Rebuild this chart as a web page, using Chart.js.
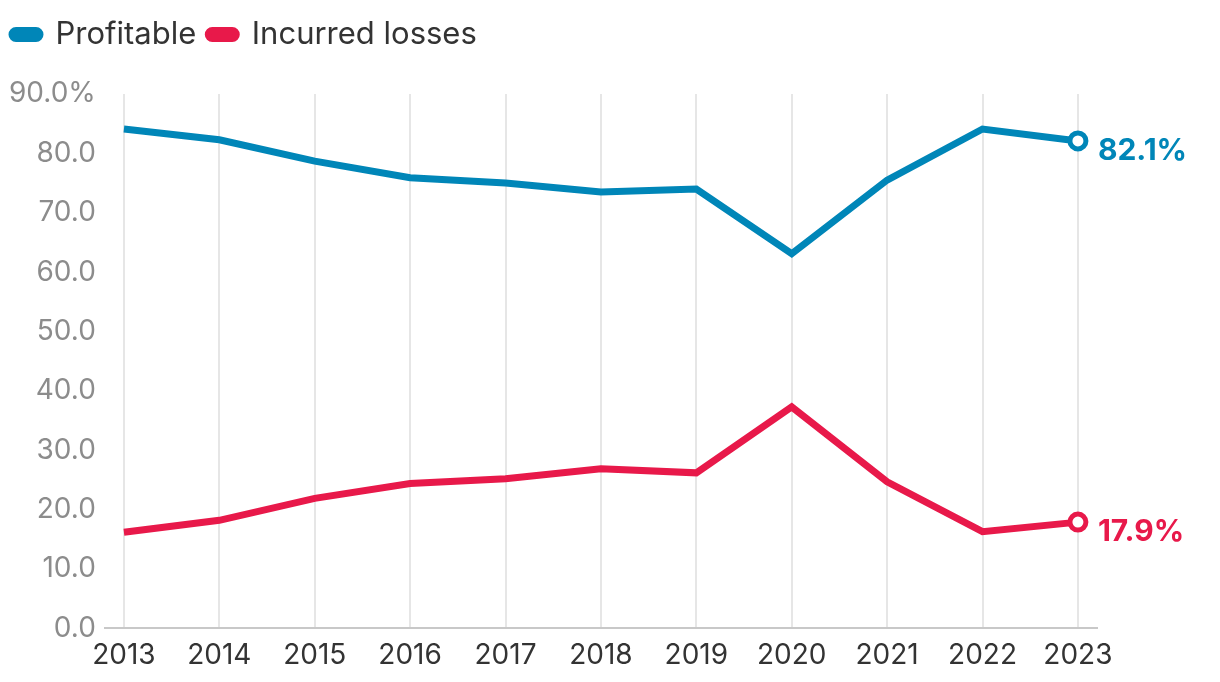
<!DOCTYPE html>
<html lang="en">
<head>
    <meta charset="UTF-8">
    <title>Profitable vs incurred losses</title>
    <script src="https://cdn.jsdelivr.net/npm/chart.js@4.4.1/dist/chart.umd.min.js"></script>
    <style>
        body { margin: 0; background: #fff; }
        #wrap { width: 1220px; height: 682px; }
    </style>
</head>
<body>
    <div id="wrap"><canvas id="lineChart"></canvas></div>

    <script>
        const years = [2013, 2014, 2015, 2016, 2017, 2018, 2019, 2020, 2021, 2022, 2023];
        const profitable = [84.1, 82.3, 78.7, 75.9, 75.0, 73.5, 74.0, 63.1, 75.5, 84.1, 82.1];
        const losses = [16.2, 18.2, 21.9, 24.4, 25.2, 26.9, 26.2, 37.3, 24.7, 16.3, 17.9];

        const blue = "#0086b8";
        const red = "#e8194a";
        const fontFamily = "Inter, 'Noto Sans', sans-serif";

        const toPoints = (arr) => arr.map((v, i) => ({x: years[i], y: v}));
        const lastOnly = (arr, val) => arr.map((_, i) => i === arr.length - 1 ? val : 0);

        // extra space between legend and plot
        const legendGap = {
            id: "legendGap",
            beforeInit(chart) {
                const origFit = chart.legend.fit;
                chart.legend.fit = function () {
                    origFit.call(this);
                    this.height += 34;
                };
            }
        };

        // end value labels next to the last point
        const endLabels = {
            id: "endLabels",
            afterDatasetsDraw(chart) {
                const ctx = chart.ctx;
                chart.data.datasets.forEach((ds, i) => {
                    const meta = chart.getDatasetMeta(i);
                    const pt = meta.data[meta.data.length - 1];
                    const v = ds.data[ds.data.length - 1].y;
                    ctx.save();
                    ctx.font = "bold 30px " + fontFamily;
                    ctx.fillStyle = ds.borderColor;
                    ctx.textBaseline = "middle";
                    ctx.fillText(v.toFixed(1) + "%", pt.x + 20, pt.y + 10);
                    ctx.restore();
                });
            }
        };

        new Chart(document.getElementById("lineChart"), {
            type: "line",
            data: {
                datasets: [
                    {label: "Profitable", data: toPoints(profitable), borderColor: blue, backgroundColor: blue,
                     borderWidth: 7, pointRadius: lastOnly(profitable, 8), pointBorderWidth: 5,
                     pointBackgroundColor: "#fff", pointHoverRadius: 0},
                    {label: "Incurred losses", data: toPoints(losses), borderColor: red, backgroundColor: red,
                     borderWidth: 7, pointRadius: lastOnly(losses, 8), pointBorderWidth: 5,
                     pointBackgroundColor: "#fff", pointHoverRadius: 0}
                ]
            },
            options: {
                responsive: true,
                maintainAspectRatio: false,
                animation: false,
                layout: {padding: {left: 0, right: 123, top: 7, bottom: 0}},
                plugins: {
                    tooltip: {enabled: false},
                    legend: {
                        position: "top",
                        align: "start",
                        labels: {
                            boxWidth: 28,
                            boxHeight: 8,
                            useBorderRadius: true,
                            borderRadius: 4,
                            color: "#333",
                            padding: 12,
                            font: {family: fontFamily, size: 31}
                        }
                    }
                },
                scales: {
                    x: {
                        type: "linear",
                        min: 2012.8,
                        max: 2023.2,
                        afterBuildTicks: (scale) => { scale.ticks = years.map(y => ({value: y})); },
                        grid: {color: "#e6e6e6", lineWidth: 2, drawTicks: false},
                        border: {color: "#c8c8c8", width: 2},
                        ticks: {
                            color: "#333",
                            padding: 10,
                            font: {family: fontFamily, size: 28},
                            callback: (v) => String(v),
                            maxRotation: 0,
                            autoSkip: false
                        }
                    },
                    y: {
                        min: 0,
                        max: 90,
                        grid: {display: false, drawTicks: false},
                        border: {display: false},
                        ticks: {
                            stepSize: 10,
                            color: "#8c8c8c",
                            padding: 9,
                            font: {family: fontFamily, size: 28},
                            callback: (v) => v === 90 ? "90.0%" : v.toFixed(1)
                        }
                    }
                }
            },
            plugins: [legendGap, endLabels]
        });
    </script>
</body>
</html>
